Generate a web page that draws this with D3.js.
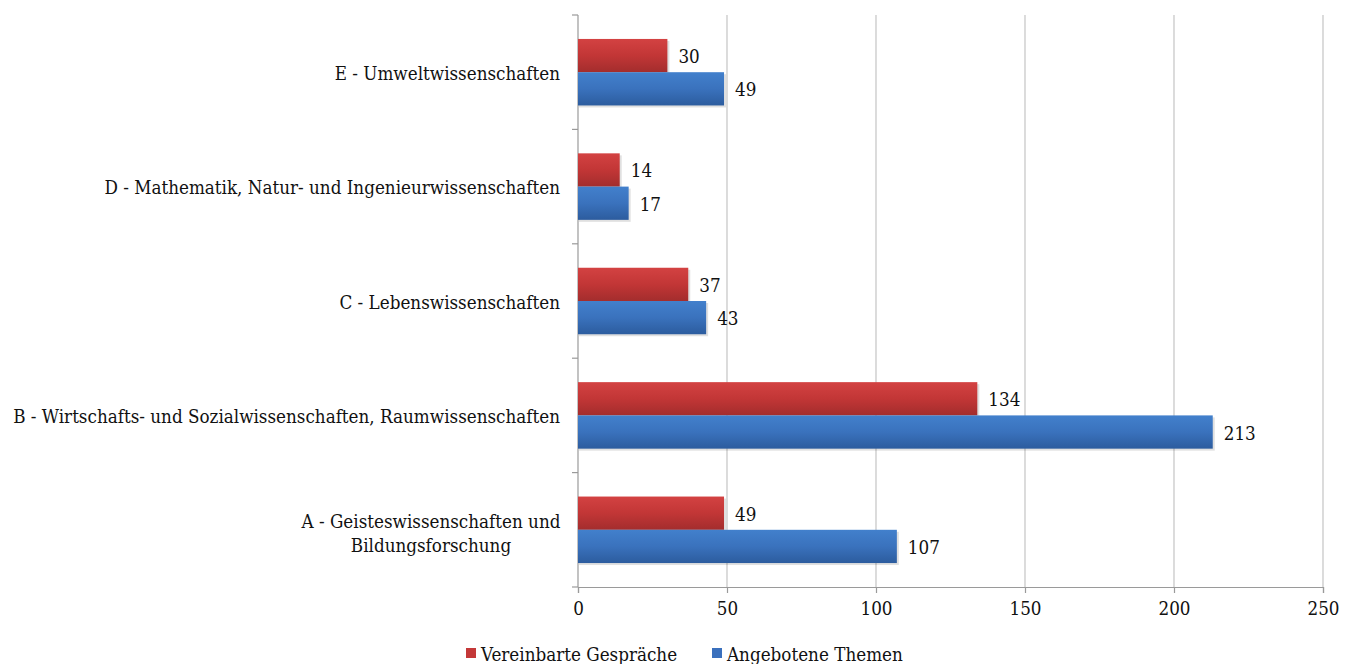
<!DOCTYPE html>
<html><head><meta charset="utf-8">
<script src="https://cdn.jsdelivr.net/npm/d3@7"></script>
<style>body{margin:0;background:#fff}svg{display:block}text{font-family:"DejaVu Serif Condensed","DejaVu Serif",serif;fill:#111}</style>
</head><body><svg id="c" width="1352" height="664"></svg>
<script>
const categories = [
  "E - Umweltwissenschaften",
  "D - Mathematik, Natur- und Ingenieurwissenschaften",
  "C - Lebenswissenschaften",
  "B - Wirtschafts- und Sozialwissenschaften, Raumwissenschaften",
  "A - Geisteswissenschaften und\nBildungsforschung"
];
const seriesNames = ["Vereinbarte Gespräche", "Angebotene Themen"];
const vereinbarte = [30, 14, 37, 134, 49];
const angebotene = [49, 17, 43, 213, 107];
const xTicks = [0, 50, 100, 150, 200, 250];

const svg = d3.select("#c");
const FF = '"DejaVu Serif Condensed","DejaVu Serif",serif';
// fit font size so that the longest label spans ~547px
const probe = svg.append("text").attr("font-size", 20).style("font-family", FF).text(categories[3]);
let fs = 20 * 547 / probe.node().getComputedTextLength();
fs = Math.max(15, Math.min(21, fs));
probe.remove();

const m = {l:578, r:1323, t:15, b:587};
const x = d3.scaleLinear().domain([0,250]).range([m.l, m.r]);
const y = d3.scaleBand().domain(categories).range([m.t, m.b]).paddingInner(0).paddingOuter(0);
const inner = d3.scaleBand().domain(seriesNames).range([0, y.bandwidth()]).paddingOuter(0.72).paddingInner(0);

const defs = svg.append("defs");
const grads = [["gr", "#d34242", "#c23636", "#a32d2d"], ["gb", "#4280cc", "#3a72bd", "#2c5c9e"]];
grads.forEach(([id,a,b,c]) => {
  const g = defs.append("linearGradient").attr("id", id).attr("x1",0).attr("y1",0).attr("x2",0).attr("y2",1);
  g.append("stop").attr("offset","0%").attr("stop-color",a);
  g.append("stop").attr("offset","50%").attr("stop-color",b);
  g.append("stop").attr("offset","100%").attr("stop-color",c);
});
const colors = ["url(#gr)", "url(#gb)"];
const legendColors = ["#c43838", "#3a70bd"];

// gridlines
svg.append("g").selectAll("line").data(xTicks.slice(1)).join("line")
  .attr("x1", d=>x(d)).attr("x2", d=>x(d)).attr("y1", m.t).attr("y2", m.b)
  .attr("stroke", "#c4c4c4").attr("stroke-width", 1.2);

// x axis
const xa = svg.append("g").attr("transform", `translate(0,${m.b})`)
  .call(d3.axisBottom(x).tickValues(xTicks).tickSize(6).tickPadding(9).tickFormat(d3.format("d")));
xa.select(".domain").attr("stroke", "#9a9a9a").attr("stroke-width", 1.2);
xa.selectAll(".tick line").attr("stroke", "#9a9a9a").attr("stroke-width", 1.2);
xa.selectAll("text").attr("font-size", fs).attr("font-family", FF).attr("fill", "#111");

// y axis
const boundaries = d3.range(categories.length + 1).map(i => m.t + i * y.bandwidth());
svg.append("line").attr("x1", m.l).attr("x2", m.l).attr("y1", m.t).attr("y2", m.b)
  .attr("stroke", "#9a9a9a").attr("stroke-width", 1.2);
svg.append("g").selectAll("line").data(boundaries).join("line")
  .attr("x1", m.l-6).attr("x2", m.l).attr("y1", d=>d).attr("y2", d=>d)
  .attr("stroke", "#9a9a9a").attr("stroke-width", 1.2);

// category labels
categories.forEach(c => {
  const lines = c.split("\n");
  const cy = y(c) + y.bandwidth()/2 + 1;
  const lh = 24;
  const t = svg.append("text").attr("font-size", fs)
    .attr("text-anchor", lines.length > 1 ? "middle" : "end")
    .attr("dominant-baseline", "central");
  if (lines.length > 1) {
    lines.forEach((ln, i) => {
      t.append("tspan").attr("x", 431).attr("y", cy + 2 + (i - (lines.length-1)/2) * lh).text(ln);
    });
  } else {
    t.attr("x", 560).attr("y", cy).text(c);
  }
});

// bars
const data = [vereinbarte, angebotene];
data.forEach((vals, si) => {
  const g = svg.append("g");
  g.selectAll("rect.sh").data(vals).join("rect")
    .attr("x", x(0)+1).attr("y", (d,i)=>y(categories[i]) + inner(seriesNames[si]) + 2)
    .attr("width", d=>x(d)-x(0)+1).attr("height", inner.bandwidth())
    .attr("fill", "#000").attr("opacity", 0.12);
  g.selectAll("rect.b").data(vals).join("rect")
    .attr("x", x(0)).attr("y", (d,i)=>y(categories[i]) + inner(seriesNames[si]))
    .attr("width", d=>x(d)-x(0)).attr("height", inner.bandwidth())
    .attr("fill", colors[si]);
  g.selectAll("text").data(vals).join("text")
    .attr("x", d=>x(d)+11).attr("y", (d,i)=>y(categories[i]) + inner(seriesNames[si]) + inner.bandwidth()/2 + 1)
    .attr("dominant-baseline", "central").attr("font-size", fs).text(d=>d);
});

// legend
const leg = svg.append("g");
const lx = [466, 712];
seriesNames.forEach((n, i) => {
  leg.append("rect").attr("x", lx[i]).attr("y", 648).attr("width", 10).attr("height", 10).attr("fill", legendColors[i]);
  leg.append("text").attr("x", lx[i]+15).attr("y", 654).attr("dominant-baseline", "central")
    .attr("font-size", fs).text(n);
});
</script></body></html>
